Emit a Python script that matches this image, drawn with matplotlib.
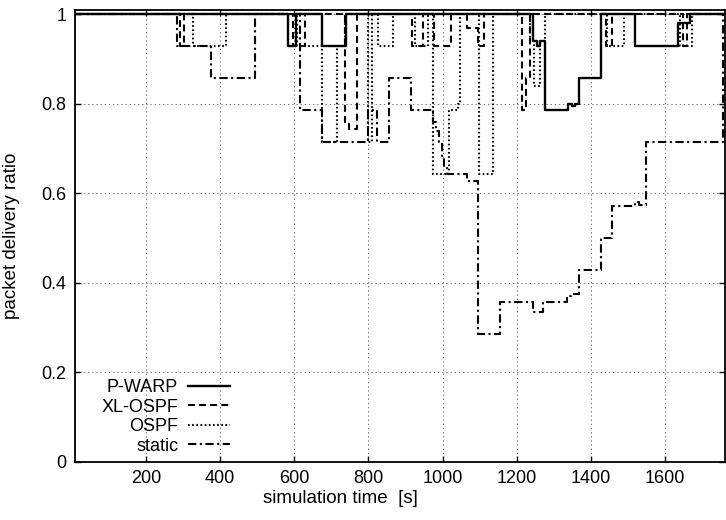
import numpy as np
import matplotlib
matplotlib.use('Agg')
import matplotlib.pyplot as plt

plt.rcParams['font.family'] = ['Liberation Sans', 'DejaVu Sans']
plt.rcParams['font.size'] = 13

# step series: time [s] where the value changes, new value
pwarp_t = [10, 583, 605, 675, 740, 1243, 1255, 1262, 1276, 1338, 1350, 1356, 1367, 1426, 1518, 1634, 1666, 1760]
pwarp_v = [1, 0.929, 1, 0.929, 1, 0.94, 0.93, 0.94, 0.786, 0.80, 0.795, 0.80, 0.857, 1, 0.929, 0.98, 1, 1]

xlospf_t = [10, 292, 302, 597, 629, 737, 748, 768, 917, 947, 976, 1024, 1065, 1095, 1111, 1213, 1224, 1235,
            1440, 1456, 1648, 1658, 1760]
xlospf_v = [1, 0.929, 1, 0.929, 1, 0.757, 0.743, 1, 0.929, 1, 0.929, 1, 0.97, 0.929, 1, 0.786, 0.857, 1,
            0.929, 1, 0.929, 1, 1]

ospf_t = [10, 327, 416, 607, 675, 715, 738, 798, 810, 825, 866, 925, 960, 974, 1017, 1041, 1047, 1098, 1135,
          1235, 1246, 1262, 1276, 1443, 1488, 1640, 1672, 1760]
ospf_v = [1, 0.929, 1, 0.929, 0.714, 0.929, 1, 0.714, 1, 0.929, 1, 0.929, 1, 0.643, 0.786, 0.80, 1, 0.643, 1,
          0.94, 0.84, 0.94, 1, 0.929, 1, 0.929, 1, 1]

static_t = [10, 284, 375, 494, 615, 675, 798, 822, 855, 915, 974, 982, 990, 998, 1003, 1011, 1065, 1095,
            1154, 1243, 1270, 1335, 1345, 1367, 1426, 1456, 1518, 1530, 1548, 1755, 1760]
static_v = [1, 0.929, 0.857, 1, 0.786, 0.714, 0.786, 0.714, 0.857, 0.786, 0.76, 0.74, 0.714, 0.68, 0.66, 0.643,
            0.628, 0.286, 0.357, 0.336, 0.357, 0.371, 0.375, 0.429, 0.5, 0.571, 0.58, 0.575, 0.714, 1, 1]

labels = ['P-WARP', 'XL-OSPF', 'OSPF', 'static']
xticks = [200, 400, 600, 800, 1000, 1200, 1400, 1600]
yticks = [0, 0.2, 0.4, 0.6, 0.8, 1]
ytick_labels = ['0', '0.2', '0.4', '0.6', '0.8', '1']

plt.rcParams['lines.scale_dashes'] = False

fig = plt.figure(figsize=(7.26, 5.2), dpi=100)
ax = fig.add_axes([75 / 726, 58 / 520, 649.5 / 726, 452 / 520])

ax.step(pwarp_t, pwarp_v, where='post', color='black', lw=1.7, ls='-', label=labels[0])
ax.step(xlospf_t, xlospf_v, where='post', color='black', lw=1.5, ls=(0, (5, 3)), label=labels[1])
ax.step(ospf_t, ospf_v, where='post', color='black', lw=1.5, ls=(0, (1.2, 1.8)), label=labels[2])
ax.step(static_t, static_v, where='post', color='black', lw=1.5, ls=(0, (6, 2.5, 1.5, 2.5)), label=labels[3])

ax.set_xlim(9, 1760)
ax.set_ylim(0, 1.01)
ax.set_xticks(xticks)
ax.set_yticks(yticks)
ax.set_yticklabels(ytick_labels)
ax.grid(True, color='#777777', lw=0.7, ls=(0, (1, 2)))
ax.tick_params(direction='in', length=4.5, width=1, top=True, right=True, pad=6)
for s in ax.spines.values():
    s.set_linewidth(1.3)

ax.set_xlabel('simulation time  [s]', fontsize=13.5)
ax.set_ylabel('packet delivery ratio', fontsize=13.5)
ax.xaxis.set_label_coords(0.408, -0.063)
ax.yaxis.set_label_coords(-0.085, 0.5)

leg = ax.legend(loc='lower left', bbox_to_anchor=(0.021, -0.012), frameon=False, markerfirst=False,
                handlelength=2.3, handletextpad=0.55, labelspacing=0.14, borderaxespad=0.3)

fig.savefig('out.png', dpi=100)
